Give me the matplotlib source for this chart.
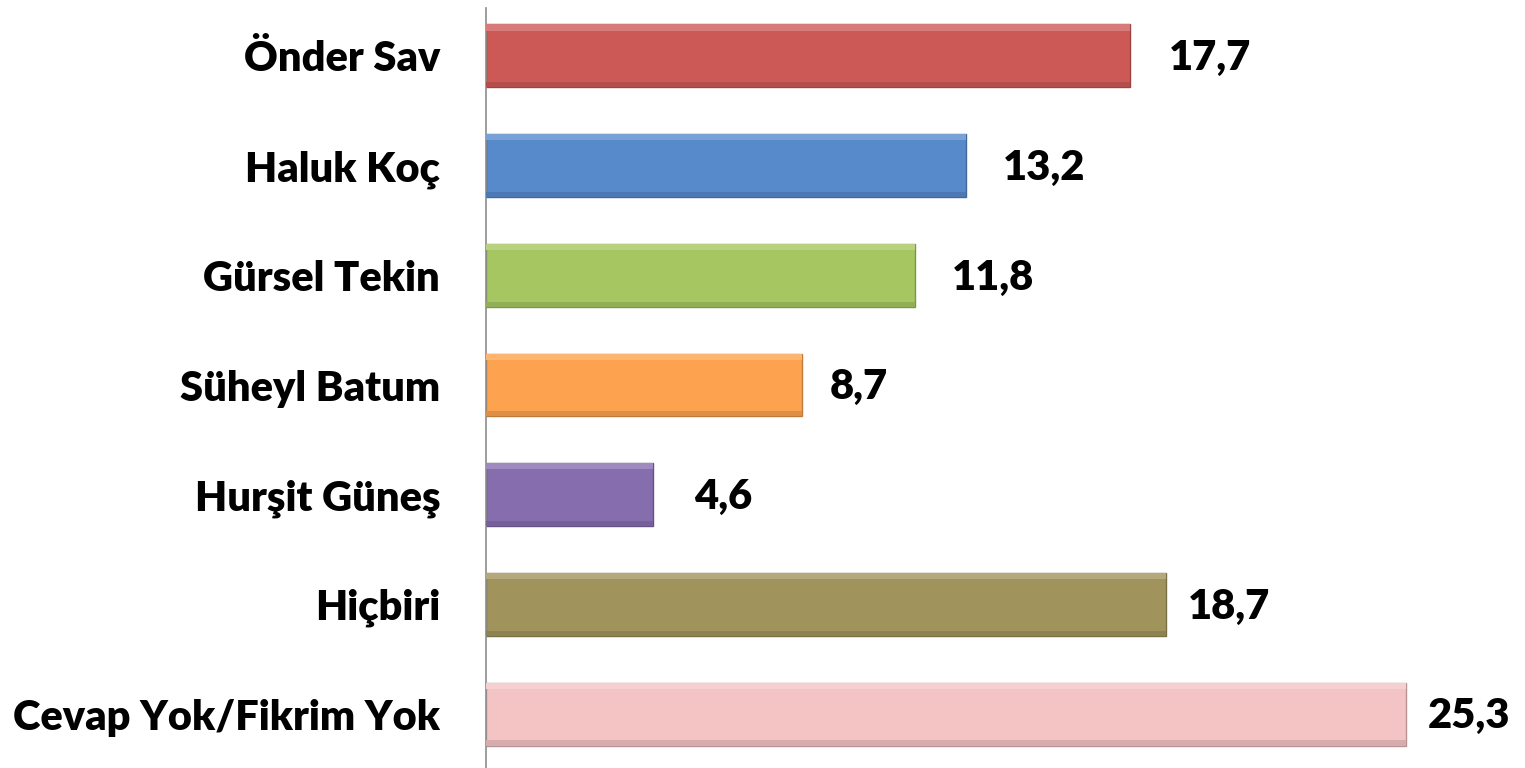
import matplotlib
matplotlib.use("Agg")
import matplotlib.pyplot as plt
import matplotlib.colors as mcolors
import numpy as np

categories = ["Önder Sav", "Haluk Koç", "Gürsel Tekin", "Süheyl Batum",
              "Hurşit Güneş", "Hiçbiri", "Cevap Yok/Fikrim Yok"]
values = [17.7, 13.2, 11.8, 8.7, 4.6, 18.7, 25.3]
value_labels = ["17,7", "13,2", "11,8", "8,7", "4,6", "18,7", "25,3"]
colors = ["#CD5957", "#568ACB", "#A6C662", "#FDA24E", "#866DAE", "#A0945C", "#F4C4C4"]

# layout: gap (pixels) between bar end and its value label
label_gap_px = [39, 37, 37, 27, 41, 22, 22]

plt.rcParams['font.family'] = ['Lato', 'DejaVu Sans']

W, H = 1525, 768
fig = plt.figure(figsize=(W / 100, H / 100), dpi=100)
ax_left = 486 / W
ax_top = 8 / H
ax = fig.add_axes([ax_left, 0.0, 1 - ax_left, 1 - ax_top])

spacing = 109.7
top_pad = 48 / spacing
bot_pad = (768 - 714) / spacing
n = len(categories)
y = np.arange(n)
bar_h = 63 / spacing
px = 36.36  # pixels per unit

def shade(c, f):
    r, g, b = mcolors.to_rgb(c)
    if f < 1:
        return (r * f, g * f, b * f)
    return (r + (1 - r) * (f - 1), g + (1 - g) * (f - 1), b + (1 - b) * (f - 1))

for yi, v, c in zip(y, values, colors):
    ax.barh(yi, v, height=bar_h, color=c, edgecolor=shade(c, 0.75), linewidth=1.0, zorder=2)
    ax.barh(yi - bar_h / 2 + bar_h * 0.05, v, height=bar_h * 0.1, color=shade(c, 1.2),
            linewidth=0, zorder=3)
    ax.barh(yi + bar_h / 2 - bar_h * 0.04, v, height=bar_h * 0.08, color=shade(c, 0.88),
            linewidth=0, zorder=3)

for yi, v, lab, g in zip(y, values, value_labels, label_gap_px):
    ax.text(v + g / px, yi + 0.02, lab, ha="left", va="center",
            fontsize=30, fontweight="heavy", color="black")

ax.set_xlim(0, (W - 486) / px)
ax.set_ylim(n - 1 + bot_pad, -top_pad)
ax.set_yticks(y)
ax.set_yticklabels(categories, fontsize=30, fontweight="heavy")
ax.tick_params(axis="y", length=0, pad=33)
ax.set_xticks([])
for s in ["top", "right", "bottom"]:
    ax.spines[s].set_visible(False)
ax.spines["left"].set_color("#8C8C8C")
ax.spines["left"].set_linewidth(1.2)
ax.set_facecolor("none")

fig.savefig("out.png", dpi=100)
